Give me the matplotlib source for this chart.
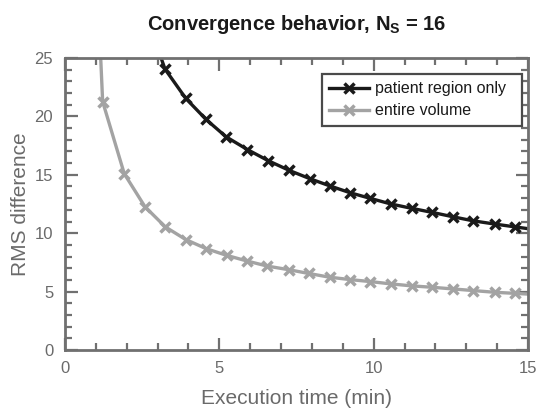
import matplotlib
matplotlib.use("Agg")
import matplotlib.pyplot as plt
from matplotlib.ticker import MultipleLocator

plt.rcParams['font.family'] = ['Liberation Sans', 'DejaVu Sans']

# Data
t_patient = [2.58, 3.24, 3.91, 4.57, 5.22, 5.91, 6.59, 7.27, 7.95, 8.58, 9.23, 9.88,
             10.56, 11.23, 11.90, 12.58, 13.22, 13.93, 14.58, 15.24]
rms_patient = [29.0, 24.05, 21.55, 19.74, 18.25, 17.16, 16.20, 15.37, 14.65, 14.05, 13.47, 12.99,
               12.50, 12.13, 11.78, 11.40, 11.06, 10.78, 10.54, 10.30]

t_entire = [0.56, 1.22, 1.92, 2.59, 3.25, 3.91, 4.57, 5.24, 5.91, 6.56, 7.26, 7.90,
            8.58, 9.23, 9.88, 10.56, 11.23, 11.90, 12.56, 13.22, 13.93, 14.58, 15.24]
rms_entire = [60.0, 21.27, 15.09, 12.27, 10.54, 9.46, 8.68, 8.10, 7.61, 7.18, 6.87, 6.55,
              6.23, 6.03, 5.86, 5.66, 5.49, 5.37, 5.23, 5.09, 4.94, 4.85, 4.75]

labels = ["patient region only", "entire volume"]
xticks = [0, 5, 10, 15]
yticks = [0, 5, 10, 15, 20, 25]

spine_c = '#707070'
text_c = '#6a6a6a'

fig = plt.figure(figsize=(5.38, 4.13), dpi=100)
ax = fig.add_axes([65/538, 1-350/413, (528-65)/538, (350-58)/413])

ax.plot(t_patient, rms_patient, color='#1a1a1a', lw=2.4, marker='x', ms=6.5, mew=2.5,
        label=labels[0])
ax.plot(t_entire, rms_entire, color='#a3a3a3', lw=2.4, marker='x', ms=6.5, mew=2.5,
        label=labels[1])

ax.set_xlim(0, 15)
ax.set_ylim(0, 25)
ax.set_xticks(xticks)
ax.set_yticks(yticks)
ax.xaxis.set_minor_locator(MultipleLocator(1))
ax.yaxis.set_minor_locator(MultipleLocator(1))
ax.tick_params(which='both', direction='in', top=True, right=True, color=spine_c,
               width=1.6, labelcolor=text_c, labelsize=12)
ax.tick_params(which='major', length=9)
ax.tick_params(axis='x', which='major', pad=8)
ax.tick_params(axis='y', which='major', pad=8.5)
ax.tick_params(which='minor', length=5)
for s in ax.spines.values():
    s.set_color(spine_c)
    s.set_linewidth(2)

ax.set_xlabel("Execution time (min)", color=text_c, fontsize=15, labelpad=9)
ax.set_ylabel("RMS difference", color=text_c, fontsize=15, labelpad=3)
ax.set_title(r"Convergence behavior, N$_\mathregular{S}$ = 16", fontsize=14.5,
             fontweight='bold', color='#1a1a1a', pad=20)

leg = ax.legend(loc='upper right',
                bbox_to_anchor=((522-65)/463, (350-74)/292),
                fontsize=11.5, frameon=True, fancybox=False,
                edgecolor='#4a4a4a', framealpha=1, handlelength=2.5, borderaxespad=0,
                handletextpad=0.35, borderpad=0.45, labelspacing=0.45)
leg.get_frame().set_linewidth(1.6)
for t in leg.get_texts():
    t.set_color('#1a1a1a')
    t.set_text(t.get_text() + "  ")

fig.savefig("out.png", dpi=100)
